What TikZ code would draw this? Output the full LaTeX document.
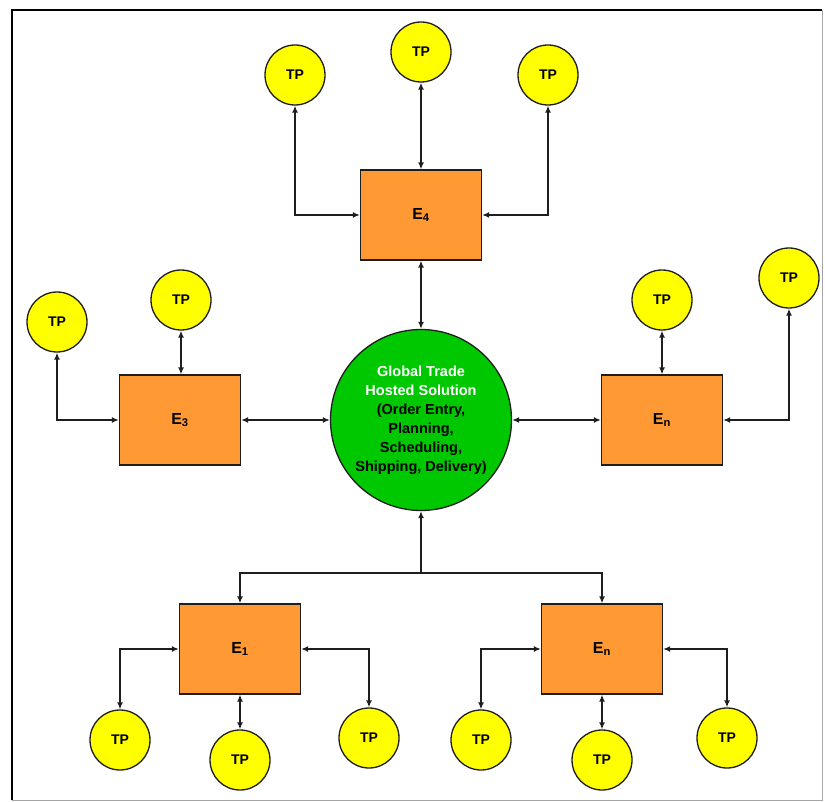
\documentclass[tikz,border=0pt]{standalone}
\usepackage{fontspec}
\setmainfont{Liberation Sans}
\usetikzlibrary{arrows.meta}
\definecolor{boxorange}{RGB}{255,153,51}
\definecolor{hubgreen}{RGB}{0,200,0}
\definecolor{tpyellow}{RGB}{255,255,0}
\definecolor{edge}{RGB}{30,30,30}
\tikzset{
  ebox/.style={draw=edge, line width=1.3pt, fill=boxorange, minimum width=121pt, minimum height=90pt, inner sep=0pt, font=\fontsize{16}{16}\selectfont\bfseries},
  tp/.style={circle, draw=edge, line width=1.3pt, fill=tpyellow, minimum size=60pt, inner sep=0pt, font=\fontsize{14}{14}\selectfont\bfseries},
  hubstyle/.style={circle, draw=edge, line width=1.3pt, fill=hubgreen, minimum size=181pt, inner sep=0pt, align=center, font=\fontsize{14.5}{19}\selectfont\bfseries},
  biarrow/.style={draw=edge, line width=1.4pt, {Latex[length=7pt,width=6pt]}-{Latex[length=7pt,width=6pt]}},
  toarrow/.style={draw=edge, line width=1.4pt, -{Latex[length=7pt,width=6pt]}},
  plainline/.style={draw=edge, line width=1.4pt}
}
\begin{document}
\begin{tikzpicture}[x=1pt,y=-1pt]
\useasboundingbox (0,0) rectangle (825,802);
% frame
\draw[gray!70, line width=1pt] (822,10) -- (822,800) -- (12,800);
\draw[black, line width=2.2pt] (12,800) -- (12,10) -- (822,10);

% hub
\node[hubstyle] (hub) at (421,420) {\textcolor{white}{Global Trade}\\\textcolor{white}{Hosted Solution}\\(Order Entry,\\Planning,\\Scheduling,\\Shipping, Delivery)};

% boxes
\node[ebox] (e4) at (421,215) {E\textsubscript{4}};
\node[ebox] (e3) at (180,420) {E\textsubscript{3}};
\node[ebox] (er) at (662,420) {E\textsubscript{n}};
\node[ebox] (e1) at (240,649) {E\textsubscript{1}};
\node[ebox] (eb) at (602,649) {E\textsubscript{n}};

% TPs
\node[tp] (t4a) at (295,75) {TP};
\node[tp] (t4b) at (421,52) {TP};
\node[tp] (t4c) at (548,75) {TP};
\node[tp] (t3a) at (57,322) {TP};
\node[tp] (t3b) at (181,300) {TP};
\node[tp] (tra) at (662,300) {TP};
\node[tp] (trb) at (789,278) {TP};
\node[tp] (t1a) at (120,740) {TP};
\node[tp] (t1b) at (240,760) {TP};
\node[tp] (t1c) at (369,738) {TP};
\node[tp] (tba) at (481,740) {TP};
\node[tp] (tbb) at (602,760) {TP};
\node[tp] (tbc) at (727,738) {TP};

% E4 connections
\draw[biarrow] (e4.west) -| (t4a);
\draw[biarrow] (e4) -- (t4b);
\draw[biarrow] (e4.east) -| (t4c);
\draw[biarrow] (e4) -- (hub);

% E3 connections
\draw[biarrow] (e3.west) -| (t3a);
\draw[biarrow] (e3.north -| t3b) -- (t3b);
\draw[biarrow] (e3) -- (hub);

% En right connections
\draw[biarrow] (er) -- (hub);
\draw[biarrow] (er) -- (tra);
\draw[biarrow] (er.east) -| (trb);

% bottom tree
\coordinate (j) at (421,573);
\draw[plainline, {Latex[length=7pt,width=6pt]}-] (hub) -- (j);
\draw[toarrow] (j) -| (e1);
\draw[toarrow] (j) -| (eb);

% E1 connections
\draw[biarrow] (e1.west) -| (t1a);
\draw[biarrow] (e1) -- (t1b);
\draw[biarrow] (e1.east) -| (t1c);

% En bottom connections
\draw[biarrow] (eb.west) -| (tba);
\draw[biarrow] (eb) -- (tbb);
\draw[biarrow] (eb.east) -| (tbc);
\end{tikzpicture}
\end{document}
